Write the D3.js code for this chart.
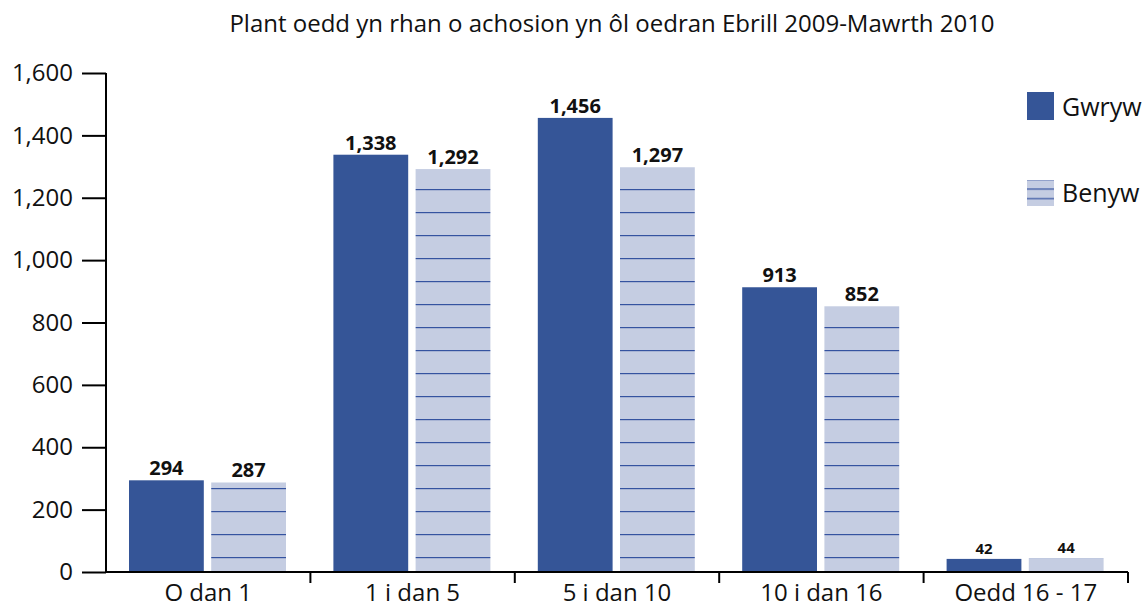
<!DOCTYPE html>
<html>
<head>
<meta charset="utf-8">
<script src="https://cdn.jsdelivr.net/npm/d3@7"></script>
<style>
  body { margin: 0; background: #fff; }
  text { font-family: "Open Sans", "Noto Sans", sans-serif; fill: #111; }
</style>
</head>
<body>
<div id="chart"></div>
<script>
// data
const categories = ["O dan 1", "1 i dan 5", "5 i dan 10", "10 i dan 16", "Oedd 16 - 17"];
const seriesNames = ["Gwryw", "Benyw"];
const gwryw = [294, 1338, 1456, 913, 42];
const benyw = [287, 1292, 1297, 852, 44];
const yTicks = [0, 200, 400, 600, 800, 1000, 1200, 1400, 1600];

const width = 1147, height = 609;
const margin = { top: 73, left: 106 };
const plotRight = 1128;

const svg = d3.select("#chart").append("svg")
    .attr("width", width)
    .attr("height", height);

// patterns for Benyw (horizontal lines)
const defs = svg.append("defs");
const pat = defs.append("pattern")
    .attr("id", "lines")
    .attr("patternUnits", "userSpaceOnUse")
    .attr("width", 40)
    .attr("height", 23)
    .attr("y", -6);
pat.append("rect").attr("width", 40).attr("height", 23).attr("fill", "#c5cde2");
pat.append("rect").attr("y", 11).attr("width", 40).attr("height", 1.2).attr("fill", "#3553a0");

const patL = defs.append("pattern")
    .attr("id", "lines-legend")
    .attr("patternUnits", "userSpaceOnUse")
    .attr("width", 40)
    .attr("height", 9.5)
    .attr("y", 184);
patL.append("rect").attr("width", 40).attr("height", 9.5).attr("fill", "#c5cde2");
patL.append("rect").attr("y", 5).attr("width", 40).attr("height", 1.2).attr("fill", "#3553a0");

const x = d3.scaleBand()
    .domain(categories)
    .range([margin.left, plotRight]);

const x1 = d3.scaleBand()
    .domain(seriesNames)
    .range([23, 23 + 157])
    .paddingInner(0.09);

const y = d3.scaleLinear()
    .domain([0, 1600])
    .range([572, 73]);

// title
svg.append("text")
    .attr("x", 612)
    .attr("y", 32)
    .attr("text-anchor", "middle")
    .style("font-size", "24px")
    .attr("fill", "#222")
    .text("Plant oedd yn rhan o achosion yn ôl oedran Ebrill 2009-Mawrth 2010");

// bars
const rows = categories.map((c, i) => ({ cat: c, i: i, vals: [gwryw[i], benyw[i]] }));

const group = svg.append("g").selectAll("g")
    .data(rows)
    .enter().append("g")
    .attr("transform", d => `translate(${x(d.cat)},0)`);

const cells = d => d.vals.map((v, j) => ({ s: seriesNames[j], v: v, i: d.i }));

group.selectAll("rect")
    .data(cells)
    .enter().append("rect")
    .attr("x", d => x1(d.s))
    .attr("width", x1.bandwidth())
    .attr("y", d => y(d.v))
    .attr("height", d => y(0) - y(d.v))
    .attr("fill", d => d.s === "Gwryw" ? "#355597" : "url(#lines)");

group.selectAll("text.val")
    .data(cells)
    .enter().append("text")
    .attr("class", "val")
    .attr("x", d => x1(d.s) + x1.bandwidth() / 2)
    .attr("y", d => y(d.v) - 5)
    .attr("text-anchor", "middle")
    .style("font-weight", "bold")
    .style("font-size", d => d.v < 100 ? "15px" : "20px")
    .attr("fill", "#000")
    .text(d => d3.format(",")(d.v));

// y axis
const yAxis = svg.append("g")
    .attr("transform", `translate(${margin.left},0)`)
    .call(d3.axisLeft(y).tickValues(yTicks).tickFormat(d3.format(",")).tickSize(24).tickPadding(9));
yAxis.select(".domain").attr("stroke", "#000").attr("stroke-width", 2).attr("d", `M0,${y(0)}V${y(1600)}`);
yAxis.selectAll(".tick line").attr("stroke", "#000").attr("stroke-width", 2);
yAxis.selectAll(".tick text").style("font-size", "24px").attr("fill", "#222")
    .style("font-family", "'Open Sans', 'Noto Sans', sans-serif");

// x axis
const xAxis = svg.append("g")
    .attr("transform", `translate(0,${y(0)})`);
xAxis.append("line")
    .attr("x1", margin.left).attr("x2", plotRight)
    .attr("stroke", "#000").attr("stroke-width", 2);
xAxis.selectAll("line.tk")
    .data(categories)
    .enter().append("line")
    .attr("class", "tk")
    .attr("x1", d => x(d) + x.bandwidth())
    .attr("x2", d => x(d) + x.bandwidth())
    .attr("y1", 0).attr("y2", 11)
    .attr("stroke", "#000").attr("stroke-width", 2);
xAxis.selectAll("text")
    .data(categories)
    .enter().append("text")
    .attr("x", d => x(d) + x.bandwidth() / 2)
    .attr("y", 29)
    .attr("text-anchor", "middle")
    .style("font-size", "24px")
    .attr("fill", "#222")
    .text(d => d);

// legend
const legend = svg.append("g").selectAll("g")
    .data(seriesNames)
    .enter().append("g")
    .attr("transform", (d, i) => `translate(1027,${92 + i * 88})`);
legend.append("rect")
    .attr("width", 27).attr("height", d => d === "Gwryw" ? 28 : 26)
    .attr("fill", d => d === "Gwryw" ? "#355597" : "url(#lines-legend)");
legend.append("text")
    .attr("x", 35).attr("y", d => d === "Gwryw" ? 24 : 22)
    .style("font-size", "25px")
    .attr("fill", "#222")
    .text(d => d);
</script>
</body>
</html>
